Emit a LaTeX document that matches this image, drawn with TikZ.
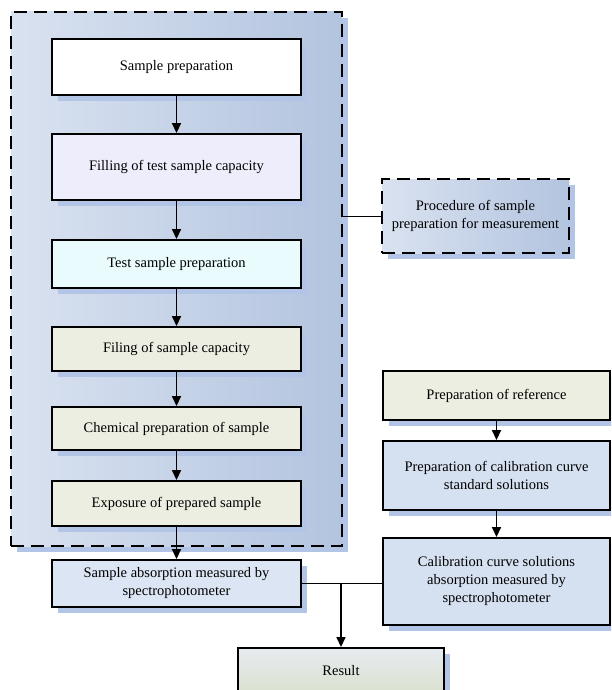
\documentclass[tikz,border=0pt]{standalone}
\usepackage{fontspec}
\setmainfont{Liberation Serif}
\usetikzlibrary{arrows.meta,shadows}
\definecolor{sb}{HTML}{B3C5E6}
\definecolor{contL}{HTML}{D9E2F0}
\definecolor{contR}{HTML}{B3C4DF}
\definecolor{lav}{HTML}{EEEDFB}
\definecolor{cyanl}{HTML}{E9FBFD}
\definecolor{beige}{HTML}{EBEEE1}
\definecolor{lblue}{HTML}{DCE5F3}
\definecolor{mblue}{HTML}{D5E0F0}
\definecolor{resT}{HTML}{E6EBF0}
\definecolor{resB}{HTML}{D2D8B3}
\begin{document}
\begin{tikzpicture}[x=1pt,y=-1pt,
  font=\fontsize{14.5}{18}\selectfont,
  shad/.style={drop shadow={shadow xshift=6pt,shadow yshift=-6pt,fill=sb,opacity=1}},
  box/.style={shad,draw=black,line width=1.9pt,align=center,inner sep=0pt},
  dbox/.style={box,dash pattern=on 13pt off 7pt},
  arr/.style={line width=1.6pt,-{Triangle[length=10pt,width=9pt]}},
  link/.style={line width=1pt}]
\useasboundingbox (0,0) rectangle (611,690);
\fill[white] (0,0) rectangle (611,690);
\clip (0,0) rectangle (611,690);
% container
\node[dbox,left color=contL,right color=contR,minimum width=331pt,minimum height=534pt] (cont) at (176.5,279) {};
% left column
\node[box,fill=white,minimum width=249pt,minimum height=56pt] (b1) at (176.5,67) {Sample preparation};
\node[box,fill=lav,minimum width=249pt,minimum height=66pt] (b2) at (176.5,167) {Filling of test sample capacity};
\node[box,fill=cyanl,minimum width=249pt,minimum height=48pt] (b3) at (176.5,264) {Test sample preparation};
\node[box,fill=beige,minimum width=249pt,minimum height=44pt] (b4) at (176.5,349) {Filing of sample capacity};
\node[box,fill=beige,minimum width=249pt,minimum height=43pt] (b5) at (176.5,428.5) {Chemical preparation of sample};
\node[box,fill=beige,minimum width=249pt,minimum height=45pt] (b6) at (176.5,503.5) {Exposure of prepared sample};
\node[box,fill=lblue,minimum width=249pt,minimum height=47pt] (b7) at (176.5,583.5) {Sample absorption measured by\\spectrophotometer};
% procedure
\node[dbox,left color=contL,right color=contR,minimum width=187pt,minimum height=74pt] (proc) at (475.5,216) {Procedure of sample\\preparation for measurement};
% right column
\node[box,fill=beige,minimum width=227pt,minimum height=49pt] (r1) at (496.5,395.5) {Preparation of reference};
\node[box,fill=mblue,minimum width=227pt,minimum height=69pt] (r2) at (496.5,475.5) {Preparation of calibration curve\\standard solutions};
\node[box,fill=mblue,minimum width=227pt,minimum height=87pt] (r3) at (496.5,581.5) {Calibration curve solutions\\absorption measured by\\spectrophotometer};
% result
\node[box,top color=resT,bottom color=resB,minimum width=206pt,minimum height=84pt] (res) at (341,690) {};
\node[anchor=base] (restext) at (341,675) {Result};
% connectors
\draw[arr] (b1) -- (b2);
\draw[arr] (b2) -- (b3);
\draw[arr] (b3) -- (b4);
\draw[arr] (b4) -- (b5);
\draw[arr] (b5) -- (b6);
\draw[arr] (b6) -- (b7);
\draw[arr] (r1) -- (r2);
\draw[arr] (r2) -- (r3);
\draw[link] (cont.east |- proc.west) -- (proc.west);
\draw[link] (b7.east) -- (b7.east -| r3.west);
\coordinate (j) at (res.north |- b7.east);
\draw[arr] (j) -- (res.north);
\end{tikzpicture}
\end{document}
